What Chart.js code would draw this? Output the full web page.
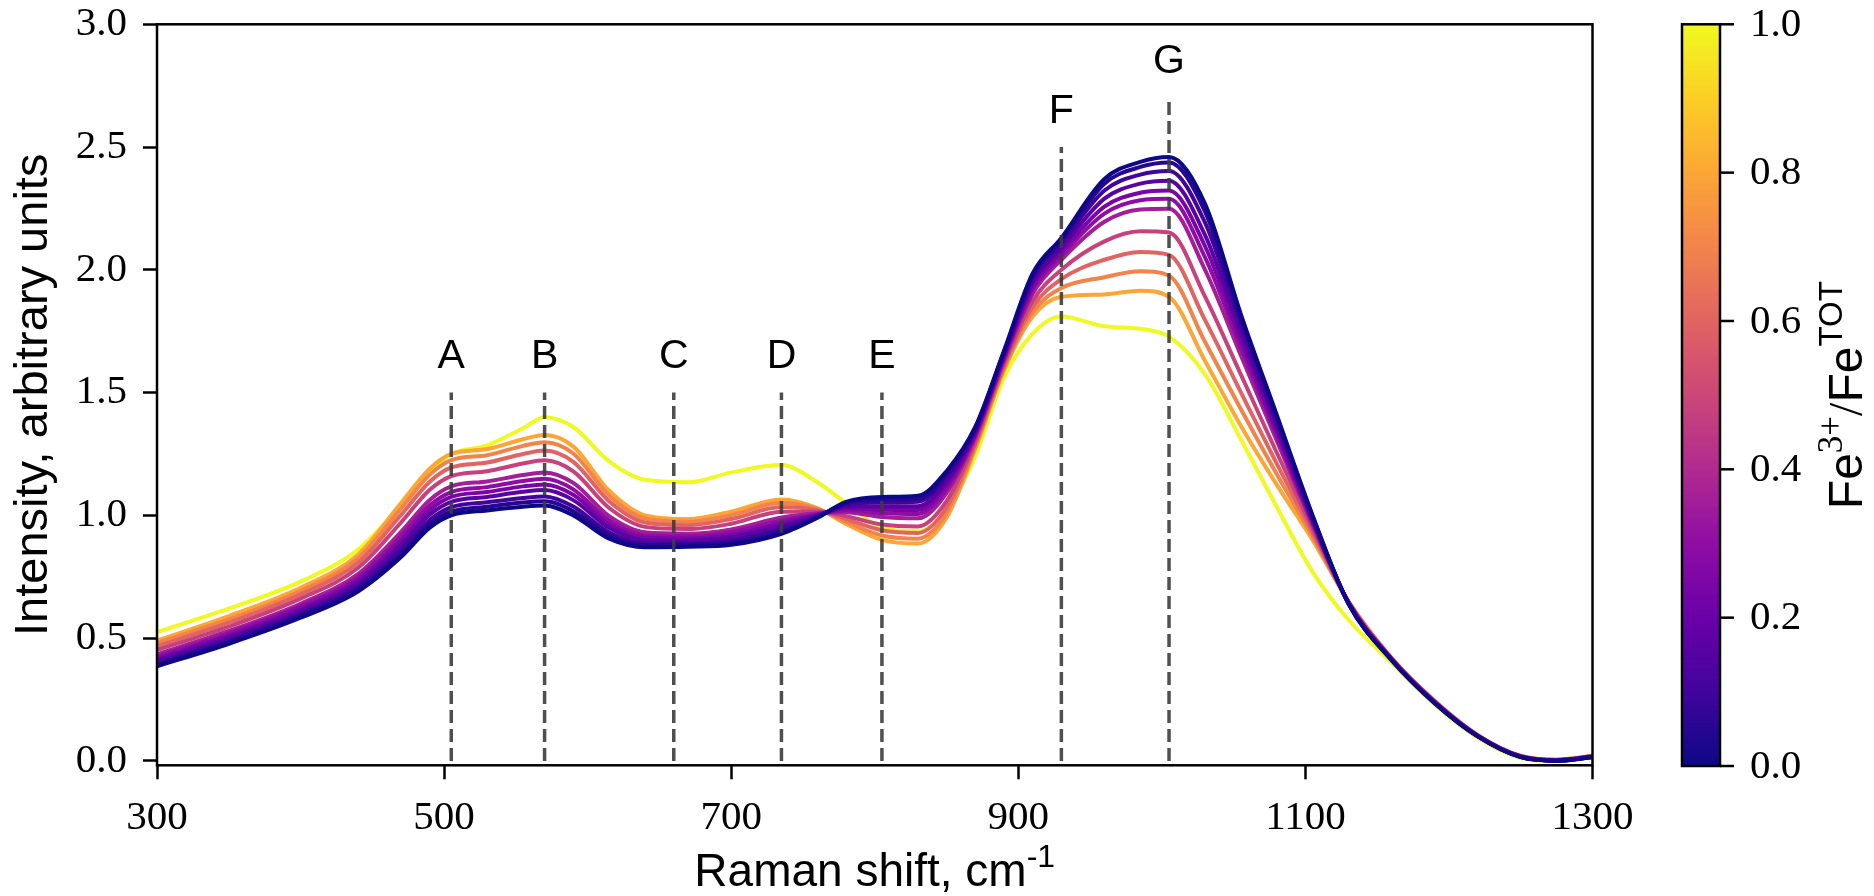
<!DOCTYPE html>
<html>
<head>
<meta charset="utf-8">
<title>Raman spectra vs Fe3+/FeTOT</title>
<script src="https://cdn.jsdelivr.net/npm/chart.js@4.4.1/dist/chart.umd.min.js"></script>
<style>
  html, body { margin: 0; padding: 0; background: #fff; }
  #wrap { position: relative; width: 1874px; height: 896px; }
</style>
</head>
<body>
<div id="wrap"><canvas id="ramanChart" width="1874" height="896"></canvas></div>
<script>
// Raman shift grid (cm-1)
const ramanShift = [300, 350, 400, 440, 470, 490, 505, 530, 555, 570, 590, 615, 640, 670, 700, 735, 760, 780, 805, 830,
  850, 870, 890, 910, 930, 960, 985, 1005, 1030, 1055, 1080, 1105, 1130, 1160, 1190, 1220, 1250, 1275, 1300];

// Fe3+/FeTOT of each spectrum (colour of the line)
const feRatio = [1.0, 0.8, 0.7, 0.6, 0.48, 0.36, 0.3, 0.24, 0.16, 0.1, 0.05, 0.0];

// intensities, one array per spectrum, same order as feRatio
const spec100 = [.525, .62, .73, .86, 1.04, 1.18, 1.25, 1.285, 1.355, 1.40, 1.36, 1.22, 1.145, 1.135, 1.175, 1.205, 1.135, 1.05, .95, .935,
  1.02, 1.24, 1.56, 1.74, 1.81, 1.77, 1.76, 1.728, 1.575, 1.31, 1.035, .77, .575, .40, .23, .095, .012, .0, .015];
const spec080 = [.49, .59, .705, .84, 1.05, 1.19, 1.25, 1.27, 1.31, 1.327, 1.28, 1.10, 1.00, .985, 1.015, 1.065, 1.03, .965, .90, .885,
  .99, 1.27, 1.59, 1.81, 1.89, 1.90, 1.915, 1.89, 1.63, 1.365, 1.125, .90, .65, .42, .245, .105, .02, .005, .02];
const spec070 = [.480, .576, .692, .825, 1.028, 1.166, 1.225, 1.245, 1.283, 1.298, 1.252, 1.08, .987, .974, 1.001, 1.051, 1.026, .974, .918, .905,
  1.009, 1.279, 1.598, 1.828, 1.926, 1.97, 1.994, 1.976, 1.707, 1.433, 1.168, .915, .649, .419, .244, .105, .02, .005, .02];
const spec060 = [.467, .563, .678, .807, 1.002, 1.137, 1.195, 1.215, 1.25, 1.264, 1.218, 1.057, .971, .96, .985, 1.034, 1.021, .985, .939, .928,
  1.032, 1.29, 1.608, 1.849, 1.962, 2.041, 2.073, 2.061, 1.796, 1.502, 1.211, .93, .648, .418, .243, .104, .019, .004, .019];
const spec048 = [.452, .547, .661, .786, .971, 1.104, 1.16, 1.18, 1.211, 1.224, 1.179, 1.03, .953, .944, .966, 1.015, 1.016, .997, .963, .955,
  1.058, 1.302, 1.619, 1.873, 2.0, 2.116, 2.157, 2.152, 1.892, 1.574, 1.256, .946, .647, .417, .242, .104, .019, .004, .019];
const spec036 = [.434, .529, .640, .761, .933, 1.063, 1.118, 1.138, 1.164, 1.175, 1.132, .997, .931, .925, .943, .991, 1.009, 1.013, .993, .988,
  1.091, 1.318, 1.632, 1.903, 2.041, 2.196, 2.246, 2.249, 2.001, 1.652, 1.305, .963, .646, .416, .241, .103, .018, .003, .018];
const spec030 = [.425, .519, .630, .747, .914, 1.041, 1.095, 1.115, 1.14, 1.149, 1.106, .979, .919, .915, .931, .978, 1.005, 1.021, 1.009, 1.006,
  1.108, 1.326, 1.64, 1.919, 2.058, 2.229, 2.283, 2.289, 2.052, 1.684, 1.325, .97, .645, .415, .24, .103, .018, .003, .018];
const spec024 = [.417, .510, .620, .735, .896, 1.022, 1.075, 1.095, 1.118, 1.126, 1.084, .963, .909, .906, .92, .967, 1.002, 1.028, 1.023, 1.022,
  1.123, 1.333, 1.646, 1.933, 2.072, 2.257, 2.314, 2.323, 2.097, 1.711, 1.342, .976, .644, .414, .239, .102, .017, .002, .017];
const spec016 = [.408, .501, .610, .723, .878, 1.003, 1.055, 1.075, 1.096, 1.103, 1.062, .948, .899, .897, .91, .956, .999, 1.035, 1.037, 1.037,
  1.138, 1.34, 1.652, 1.947, 2.089, 2.29, 2.351, 2.363, 2.142, 1.743, 1.362, .983, .643, .413, .238, .102, .017, .002, .017];
const spec010 = [.399, .491, .600, .710, .859, .981, 1.033, 1.053, 1.071, 1.077, 1.036, .93, .887, .887, .898, .943, .995, 1.043, 1.052, 1.055,
  1.155, 1.348, 1.66, 1.962, 2.106, 2.323, 2.388, 2.403, 2.193, 1.775, 1.382, .99, .642, .412, .237, .101, .016, .001, .016];
const spec005 = [.391, .484, .591, .699, .843, .964, 1.015, 1.035, 1.052, 1.057, 1.017, .917, .878, .879, .888, .933, .992, 1.05, 1.065, 1.068,
  1.169, 1.355, 1.665, 1.975, 2.12, 2.351, 2.419, 2.437, 2.238, 1.802, 1.399, .996, .641, .411, .236, .10, .016, .001, .016];
const spec000 = [.385, .477, .583, .69, .83, .95, 1.00, 1.02, 1.035, 1.04, 1.00, .905, .87, .872, .88, .925, .99, 1.055, 1.075, 1.08,
  1.18, 1.36, 1.67, 1.985, 2.13, 2.37, 2.44, 2.46, 2.27, 1.82, 1.41, 1.00, .64, .41, .235, .10, .015, .0, .015];

const spectra = [spec100, spec080, spec070, spec060, spec048, spec036, spec030, spec024, spec016, spec010, spec005, spec000];

// marked bands
const peakNames = ['A', 'B', 'C', 'D', 'E', 'F', 'G'];
const peakShift = [505, 570, 660, 735, 805, 930, 1005];
const peakTop = [1.5, 1.5, 1.5, 1.5, 1.5, 2.5, 2.7];

const xTicks = [300, 500, 700, 900, 1100, 1300];
const yTicks = [0, 0.5, 1.0, 1.5, 2.0, 2.5, 3.0];
const cbTicks = [0, 0.2, 0.4, 0.6, 0.8, 1.0];

// plasma colormap
const plasmaStops = ['#0d0887', '#41049d', '#6a00a8', '#8f0da4', '#b12a90', '#cc4778',
  '#e16462', '#f2844b', '#fca636', '#fcce25', '#f0f921'];
const hexRgb = (h) => [1, 3, 5].map(i => parseInt(h.substr(i, 2), 16));
const plasma = (t) => {
  const p = Math.min(Math.max(t, 0), 1) * (plasmaStops.length - 1);
  const i = Math.min(Math.floor(p), plasmaStops.length - 2);
  const f = p - i;
  const a = hexRgb(plasmaStops[i]), b = hexRgb(plasmaStops[i + 1]);
  return 'rgb(' + a.map((v, k) => Math.round(v + (b[k] - v) * f)).join(',') + ')';
};

const SANS = '"Liberation Sans", Arial, sans-serif';
const SERIF = '"Liberation Serif", "Times New Roman", serif';

// text made of runs with their own font and vertical shift
const drawRuns = (ctx, runs, x, y, align) => {
  let total = 0;
  runs.forEach(r => { ctx.font = r.font; total += ctx.measureText(r.text).width; });
  let cx = align === 'center' ? x - total / 2 : x;
  ctx.textAlign = 'left';
  ctx.textBaseline = 'alphabetic';
  runs.forEach(r => {
    ctx.font = r.font;
    ctx.fillText(r.text, cx, y - (r.dy || 0));
    cx += ctx.measureText(r.text).width;
  });
};

const decorPlugin = {
  id: 'decor',
  afterDatasetsDraw(chart) {
    const { ctx, chartArea: a, scales: { x, y } } = chart;
    ctx.save();
    ctx.fillStyle = '#000';

    // band letters
    ctx.font = '41px ' + SANS;
    ctx.textAlign = 'center';
    ctx.textBaseline = 'alphabetic';
    peakNames.forEach((n, i) => {
      ctx.fillText(n, x.getPixelForValue(peakShift[i]), y.getPixelForValue(peakTop[i] + 0.1));
    });

    // frame
    ctx.strokeStyle = '#000';
    ctx.lineWidth = 2.5;
    ctx.strokeRect(a.left, a.top, a.right - a.left, a.bottom - a.top);

    // axis titles
    drawRuns(ctx, [
      { text: 'Raman shift, cm', font: '46px ' + SANS },
      { text: '-1', font: '32px ' + SANS, dy: 19 }
    ], (a.left + a.right) / 2, 886, 'center');

    ctx.save();
    ctx.translate(47, (a.top + a.bottom) / 2);
    ctx.rotate(-Math.PI / 2);
    ctx.font = '47px ' + SANS;
    ctx.textAlign = 'center';
    ctx.textBaseline = 'alphabetic';
    ctx.fillText('Intensity, arbitrary units', 0, 0);
    ctx.restore();

    // colour bar
    const cbL = 1682, cbR = 1720, cbT = a.top, cbB = 766;
    const grad = ctx.createLinearGradient(0, cbB, 0, cbT);
    plasmaStops.forEach((c, i) => grad.addColorStop(i / (plasmaStops.length - 1), c));
    ctx.fillStyle = grad;
    ctx.fillRect(cbL, cbT, cbR - cbL, cbB - cbT);
    ctx.strokeRect(cbL, cbT, cbR - cbL, cbB - cbT);
    ctx.fillStyle = '#000';
    ctx.font = '41px ' + SERIF;
    ctx.textAlign = 'left';
    ctx.textBaseline = 'middle';
    cbTicks.forEach(v => {
      const py = cbB - v * (cbB - cbT);
      ctx.beginPath();
      ctx.moveTo(cbR, py);
      ctx.lineTo(cbR + 14, py);
      ctx.stroke();
      ctx.fillText(v.toFixed(1), 1750, py + 1);
    });

    ctx.save();
    ctx.translate(1862, (cbT + cbB) / 2);
    ctx.rotate(-Math.PI / 2);
    drawRuns(ctx, [
      { text: 'Fe', font: '48px ' + SANS },
      { text: '3+', font: '35px ' + SERIF, dy: 20 },
      { text: '/', font: '48px ' + SERIF },
      { text: 'Fe', font: '48px ' + SANS },
      { text: 'TOT', font: '33px ' + SANS, dy: 20 }
    ], 0, 0, 'center');
    ctx.restore();

    ctx.restore();
  }
};

// datasets: dashed markers first (drawn on top), then spectra with Fe3+-poor on top
const bandSets = peakShift.map((s, i) => ({
  label: peakNames[i],
  data: [{ x: s, y: 0 }, { x: s, y: peakTop[i] }],
  borderColor: 'rgba(60,60,60,0.9)',
  borderWidth: 3.5,
  borderDash: [13, 6],
  pointRadius: 0
}));

const specSets = spectra.map((arr, i) => ({
  label: 'Fe3+/FeTOT = ' + feRatio[i],
  data: arr.map((v, k) => ({ x: ramanShift[k], y: v })),
  borderColor: plasma(feRatio[i]),
  borderWidth: 4,
  pointRadius: 0,
  cubicInterpolationMode: 'monotone'
})).reverse();

const noPad = (s) => { s.paddingTop = 0; s.paddingBottom = 0; s.paddingLeft = 0; s.paddingRight = 0; };

new Chart(document.getElementById('ramanChart'), {
  type: 'line',
  data: { datasets: [...bandSets, ...specSets] },
  options: {
    responsive: false,
    animation: false,
    devicePixelRatio: 1,
    layout: { padding: { left: 0, top: 24.3, right: 281.5, bottom: 0 } },
    plugins: { legend: { display: false }, tooltip: { enabled: false } },
    scales: {
      x: {
        type: 'linear',
        min: 300,
        max: 1300,
        afterBuildTicks: (s) => { s.ticks = xTicks.map(v => ({ value: v })); },
        afterFit: (s) => { s.height = 130.7; noPad(s); },
        border: { display: false },
        grid: { drawOnChartArea: false, drawTicks: true, tickLength: 14, tickWidth: 2.5, tickColor: '#000' },
        ticks: { color: '#000', padding: 14, font: { family: SERIF, size: 41 }, callback: (v) => String(v), maxRotation: 0 }
      },
      y: {
        min: -0.018,
        max: 3.0,
        afterBuildTicks: (s) => { s.ticks = yTicks.map(v => ({ value: v })); },
        afterFit: (s) => { s.width = 157; noPad(s); },
        border: { display: false },
        grid: { drawOnChartArea: false, drawTicks: true, tickLength: 14, tickWidth: 2.5, tickColor: '#000' },
        ticks: { color: '#000', padding: 16, font: { family: SERIF, size: 41 }, callback: (v) => Number(v).toFixed(1) }
      }
    }
  },
  plugins: [decorPlugin]
});
</script>
</body>
</html>
